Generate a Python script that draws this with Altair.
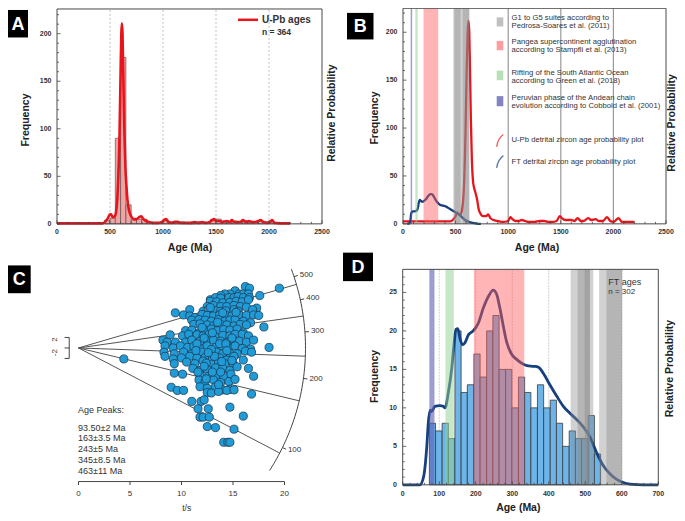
import math
import altair as alt
import pandas as pd

# ================= values =================
# ---- Panel A : U-Pb detrital zircon ages (50 Ma bins) ----
a_bin_lo = [450, 500, 550, 600, 650, 700, 750, 800, 850, 900, 950, 1000, 1050, 1100, 1150, 1200,
            1250, 1300, 1350, 1400, 1450, 1500, 1550, 1600, 1650, 1700, 1750, 1800, 1850, 1900, 1950, 2000]
a_counts = [4, 6, 90, 175, 20, 4, 5, 5, 2, 1, 1, 4, 2, 3, 2, 1,
            0, 2, 1, 1, 5, 5, 3, 2, 3, 2, 3, 2, 2, 3, 2, 3]
a_bin_width = 50
a_curve_age = [0, 430, 460, 480, 500, 510, 525, 545, 560, 575, 590, 600, 607, 612, 618, 625, 635, 645,
               655, 665, 680, 700, 720, 750, 775, 795, 815, 840, 870, 900, 950, 990, 1010, 1030, 1050,
               1080, 1110, 1140, 1170, 1200, 1250, 1300, 1330, 1370, 1400, 1440, 1465, 1480, 1500, 1530,
               1560, 1600, 1630, 1650, 1670, 1700, 1730, 1755, 1780, 1810, 1840, 1870, 1900, 1920, 1945,
               1980, 2010, 2030, 2050, 2100, 2200]
a_curve_val = [0.5, 0.5, 3, 6, 10, 10, 7, 8, 15, 40, 95, 160, 200, 211, 200, 160, 100, 60,
               40, 25, 14, 8, 5, 5, 7, 8, 5, 3, 2, 1, 1, 2, 4, 5, 2,
               1, 2, 2, 1, 1, 1, 2, 1, 2, 1, 2, 4, 5, 3, 3,
               2, 3, 2, 4, 2, 2, 2, 4, 2, 3, 2, 2, 3, 4, 2,
               1, 2, 4, 1, 0.5, 0.5]

# ---- Panel B : probability curves (frequency units) ----
b_red_age = [0, 450, 480, 500, 515, 530, 545, 560, 580, 595, 605, 615, 622, 630, 637, 645, 655, 665,
             675, 690, 705, 720, 740, 760, 790, 810, 830, 860, 900, 950, 1000, 1020, 1040, 1070, 1100,
             1130, 1160, 1200, 1250, 1300, 1340, 1380, 1420, 1460, 1490, 1510, 1540, 1570, 1600, 1630,
             1660, 1690, 1720, 1760, 1790, 1830, 1860, 1900, 1940, 1970, 2000, 2050, 2080, 2120, 2200]
b_red_val = [2.5, 2.5, 5, 8, 12, 10, 10, 14, 40, 100, 160, 200, 212, 200, 160, 110, 65, 45,
             38, 32, 25, 15, 10, 8, 8, 10, 6, 4, 3, 2, 3, 7, 5, 3, 3,
             4, 3, 2, 2, 3, 3, 2, 2, 3, 8, 6, 4, 4, 4, 3,
             6, 3, 3, 6, 4, 5, 3, 3, 7, 3, 2, 6, 2, 2, 2]
b_blue_age = [40, 60, 70, 78, 90, 110, 130, 140, 150, 160, 170, 185, 200, 220, 240, 260, 275, 290,
              310, 330, 350, 380, 410, 440, 470, 500, 530, 560, 590, 620, 660, 700, 740]
b_blue_val = [0, 0.5, 3, 11, 13, 13, 14, 16, 22, 25, 24, 23, 24, 26, 29, 31, 31, 29,
              25, 22, 20, 19, 18, 16, 14, 12, 10, 7, 4, 2.5, 1, 0.3, 0]

# ---- geological event bands (Ma), panel D ----
band_lo = [73, 117, 195, 460, 479, 499, 538, 558]
band_hi = [87, 140, 333, 522, 513, 513, 601, 601]
band_kind = ["peru", "rift", "pangea", "g", "g", "g", "g", "g"]
# ---- same bands as drawn in panel B ----
b_band_lo = [73, 117, 195, 478, 488, 567]
b_band_hi = [87, 140, 335, 630, 548, 630]
b_band_kind = ["peru", "rift", "pangea", "g", "g", "g"]

# ---- Panel C : radial plot of FT ages ----
c_ts = [16.2, 16.6, 19.5, 15.2, 14.7, 15.6, 16.0, 16.5, 17.6, 14.2, 13.8,
        12.8, 13.3, 13.8, 14.6, 15.1, 15.5, 16.0, 16.6, 12.8, 13.4, 14.0, 14.7, 15.3, 15.9, 16.5,
        12.5, 13.1, 13.8, 14.4, 15.1, 15.7, 16.3, 17.3, 10.8, 12.1, 12.6, 13.3, 13.8, 14.3, 15.1, 15.5, 16.9,
        9.4, 10.2, 10.8, 11.3, 12.0, 12.5, 13.1, 13.7, 14.3, 14.9, 15.6, 16.3, 17.0, 17.5,
        11.0, 11.7, 12.3, 12.9, 13.6, 14.2, 14.7, 15.2, 16.0, 16.7,
        11.2, 11.8, 12.5, 13.1, 13.8, 14.4, 15.1, 15.7, 16.3, 18.0,
        10.4, 11.0, 11.7, 12.3, 12.9, 13.5, 14.1, 14.7, 15.4, 16.0,
        8.9, 10.1, 10.7, 11.5, 12.1, 12.7, 13.3, 14.0, 14.7, 15.2, 15.9, 16.5,
        8.2, 8.6, 9.4, 10.4, 11.0, 11.8, 12.5, 13.1, 13.8, 14.4, 15.1, 15.6, 16.3, 17.0,
        8.4, 9.2, 9.9, 10.6, 11.2, 11.8, 12.5, 13.3, 13.9, 14.6, 15.2, 15.9, 16.7, 18.5,
        8.3, 9.3, 10.2, 11.0, 12.0, 12.7, 13.4, 14.0, 14.7, 15.4, 16.2, 16.8,
        8.4, 9.2, 10.0, 10.8, 11.5, 12.3, 13.0, 13.7, 14.4, 15.1, 16.0, 4.4,
        9.3, 10.5, 11.3, 12.1, 12.9, 13.6, 14.2, 15.0,
        9.3, 10.1, 11.1, 11.8, 12.5, 13.3, 14.0, 14.7, 15.4, 16.5,
        11.8, 12.6, 13.4, 14.1, 14.8, 17.0, 11.7, 12.3, 13.1, 13.8, 14.6, 15.2,
        11.8, 12.5, 13.3, 14.0, 14.7, 9.0, 9.6, 10.2, 12.5, 12.9, 13.6, 14.4, 15.1, 16.8,
        11.0, 11.9, 12.2, 11.6, 12.6, 14.7, 11.8, 12.1, 12.7, 16.0, 12.5, 13.3, 15.1, 14.1, 14.5, 14.7,
        12.0, 13.0, 13.7, 12.9, 14.3, 13.2, 12.4, 13.0, 13.8, 12.2, 14.4, 11.5, 12.2, 14.9, 13.5,
        14.0, 15.3, 12.8, 11.4, 12.6, 13.9, 14.9, 11.6, 12.4, 13.6]
c_z = [11.7, 11.4, 11.4, 10.9, 10.3, 10.3, 10.3, 10.3, 10.0, 10.3, 10.0,
       9.2, 9.6, 9.5, 9.6, 9.6, 9.8, 9.6, 9.6, 8.9, 8.8, 8.6, 8.7, 8.9, 8.8, 9.2,
       7.9, 8.1, 7.9, 7.9, 8.1, 7.9, 7.8, 7.6, 7.3, 7.0, 7.3, 7.1, 7.0, 7.1, 7.3, 7.0, 7.3,
       6.7, 6.3, 6.1, 5.8, 6.4, 6.2, 6.1, 6.3, 6.2, 6.1, 6.3, 6.2, 6.3, 6.2,
       5.3, 5.4, 5.3, 5.1, 5.4, 5.1, 5.3, 5.4, 5.1, 4.8,
       4.5, 4.6, 4.4, 4.2, 4.5, 4.4, 4.2, 4.5, 4.4, 4.0,
       3.3, 3.4, 2.9, 3.4, 3.6, 3.3, 3.5, 3.4, 3.6, 2.9,
       2.5, 2.3, 2.6, 2.5, 2.3, 2.6, 2.1, 2.4, 2.3, 2.6, 2.6, 2.3,
       1.5, 1.1, 1.1, 1.1, 1.5, 1.3, 1.4, 1.5, 1.3, 1.1, 1.4, 1.3, 1.1, 1.5,
       0.4, 0.0, 0.4, 0.1, 0.3, -0.2, 0.4, 0.1, 0.3, -0.1, 0.4, -0.1, -0.2, 0.1,
       -0.8, -1.1, -0.8, -1.1, -0.8, -1.3, -0.8, -1.1, -1.0, -1.1, -0.6, -0.8,
       -1.6, -2.1, -1.9, -1.6, -1.9, -1.8, -2.1, -1.9, -2.3, -1.6, -2.3, -2.1,
       -3.0, -2.7, -3.0, -2.5, -3.1, -2.7, -3.0, -2.9,
       -4.8, -5.0, -3.9, -4.3, -4.1, -3.8, -3.9, -4.3, -3.6, -3.9,
       -5.2, -5.4, -5.2, -5.4, -5.0, -5.4, -6.1, -6.4, -6.1, -6.6, -6.4, -6.0,
       -7.4, -7.7, -7.4, -8.0, -7.9, -7.5, -8.1, -8.1, -8.5, -8.6, -8.3, -8.1, -8.0, -8.8,
       -10.2, -10.2, -9.9, -11.6, -11.6, -11.3, -13.2, -13.2, -13.2, -13.0, -15.0, -15.2, -15.5, -18.0, -18.0, -18.0,
       3.9, 2.9, 0.8, -0.3, 0.8, -1.6, -2.9, -4.6, -4.6, -3.5, -0.5, 0.8, 1.9, 1.9, 4.9,
       6.7, 6.8, 7.7, -0.5, -0.9, -2.6, -2.4, -4.6, -5.9, -7.0]
c_center_age = 261.0
peak_ages = [93.5, 163, 243, 345, 463]
peak_labels = ["93.50±2 Ma", "163±3.5 Ma", "243±5 Ma", "345±8.5 Ma", "463±11 Ma"]
arc_tick_ages = [100, 200, 300, 400, 500]
arc_age_min, arc_age_max = 74, 540

# ---- Panel D : FT ages histogram and probability curve ----
d_edges = [73, 90, 108, 125, 143, 160, 177, 195, 212, 230, 247, 264, 282, 299, 317, 334, 351, 369,
           386, 404, 421, 438, 456, 473, 490, 508, 525, 542]
d_counts = [8, 7, 8, 6, 20, 12, 13, 17, 14, 20, 22, 15, 15, 10, 14, 12, 10, 13, 10, 11, 8, 5, 7, 6, 6, 9, 4]
d_curve_age = [0, 47, 57, 66, 70, 75, 79, 88, 102, 111, 116, 125, 134, 140, 146, 151, 157, 164, 171, 180,
               193, 207, 221, 235, 248, 257, 266, 276, 285, 298, 312, 326, 340, 358, 371, 385, 403, 422,
               440, 458, 476, 495, 513, 531, 549, 568, 586, 604, 622, 660, 700]
d_curve_val = [0, 0, 1, 5, 8, 9.7, 9.5, 10.2, 10.3, 10.2, 10.0, 12, 15, 18, 20.2, 20.3, 19, 18.2, 18.5, 19.5,
               20, 21, 23, 24.5, 25.3, 24.8, 23, 20.5, 18.5, 17, 16.3, 15.8, 15.5, 15.4, 15.3, 14.5, 13, 11.5,
               10.2, 9.3, 8.5, 7.5, 6.2, 4.2, 2.5, 1.4, 0.7, 0.3, 0.1, 0, 0]

# ---- axis ticks ----
ab_xticks = [0, 500, 1000, 1500, 2000, 2500]
ab_yticks = [0, 50, 100, 150, 200]
d_xticks = [0, 100, 200, 300, 400, 500, 600, 700]
d_yticks = [0, 5, 10, 15, 20, 25]
c_xticks = [0, 5, 10, 15, 20]

# ================= layout helpers =================
SY = 0.9825


def T(px):          # reference page x -> chart x
    return px - 8.0


def U(py):          # reference page y -> chart y (slightly compressed to fit the page)
    return (py - 3.0) * SY


W, H = 669, 505
FONT = "Liberation Sans, Arial, sans-serif"
RED = "#e8141b"
NAVY = "#17407e"
BAND_COL = {"peru": ("#5b5bb0", 0.6), "rift": ("#8fd18f", 0.5), "pangea": ("#ff5c5c", 0.45), "g": ("#8c8c8c", 0.4)}


def lin(dom, r0, r1):
    return alt.Scale(domain=dom, range=[r0, r1], nice=False, zero=False)


AX = lin([0, 2500], T(57), T(322)); AY = lin([0, 226], U(222.7), U(4))
BX = lin([0, 2500], T(403), T(666)); BY = lin([0, 225], U(222.7), U(3.3))
CX = lin([0, 20], T(78.5), T(284.5)); CY = lin([-20, 20], U(455.7), U(242.3))
DX = lin([0, 700], T(402.7), T(658.3)); DY = lin([0, 28], U(488.3), U(269))


def qx(f, sc):
    return alt.X(f"{f}:Q", scale=sc, axis=None)


def qy(f, sc):
    return alt.Y(f"{f}:Q", scale=sc, axis=None)


def one():
    return pd.DataFrame({"t": ["_"]})


def frame(xsc, ysc, x0, x1, y0, y1):
    df = pd.DataFrame({"a": [x0], "b": [x1], "c": [y0], "d": [y1]})
    return alt.Chart(df).mark_rect(fillOpacity=0, stroke="#4a4a4a", strokeWidth=1).encode(
        x=qx("a", xsc), x2="b:Q", y=qy("c", ysc), y2="d:Q")


def xticks(vals, xsc, ybase, length, color="#444"):
    df = pd.DataFrame({"v": vals})
    return alt.Chart(df).mark_rule(color=color, strokeWidth=0.8).encode(
        x=qx("v", xsc), y=alt.value(U(ybase)), y2=alt.value(U(ybase) - length))


def yticks(vals, ysc, xbase, length, color="#444"):
    df = pd.DataFrame({"v": vals})
    return alt.Chart(df).mark_rule(color=color, strokeWidth=0.8).encode(
        y=qy("v", ysc), x=alt.value(T(xbase)), x2=alt.value(T(xbase) + length))


def xlabels(vals, xsc, ypos, size=7, weight="bold", color="#333"):
    df = pd.DataFrame({"v": vals, "t": [str(v) for v in vals]})
    return alt.Chart(df).mark_text(font=FONT, fontSize=size, fontWeight=weight, color=color,
                                   align="center", baseline="middle").encode(
        x=qx("v", xsc), y=alt.value(U(ypos)), text="t:N")


def ylabels(vals, ysc, xpos, size=7):
    df = pd.DataFrame({"v": vals, "t": [str(v) for v in vals]})
    return alt.Chart(df).mark_text(font=FONT, fontSize=size, fontWeight="bold", color="#333",
                                   align="right", baseline="middle").encode(
        y=qy("v", ysc), x=alt.value(T(xpos)), text="t:N")


def text(s, x, y, size=9, weight="normal", angle=0, align="center", color="#222"):
    df = pd.DataFrame({"t": [s]})
    return alt.Chart(df).mark_text(font=FONT, fontSize=size, fontWeight=weight, angle=angle,
                                   align=align, baseline="middle", color=color).encode(
        x=alt.value(T(x)), y=alt.value(U(y)), text="t:N")


def label_box(letter, x0, y0, x1, y1):
    x0 = max(x0, 8.0)
    box = alt.Chart(one()).mark_rect(color="black").encode(
        x=alt.value(T(x0)), x2=alt.value(T(x1)), y=alt.value(U(y0)), y2=alt.value(U(y1)))
    return [box, text(letter, (x0 + x1) / 2, (y0 + y1) / 2 + 1, size=18, weight="bold", color="white")]


def bands(los, his, kinds, xsc, ysc, top):
    out = []
    for kind in ["g", "pangea", "rift", "peru"]:
        lo = [l for l, k in zip(los, kinds) if k == kind]
        hi = [h for h, k in zip(his, kinds) if k == kind]
        df = pd.DataFrame({"lo": lo, "hi": hi, "b": [0] * len(lo), "t": [top] * len(lo)})
        col, op = BAND_COL[kind]
        out.append(alt.Chart(df).mark_rect(color=col, opacity=op).encode(
            x=qx("lo", xsc), x2="hi:Q", y=qy("b", ysc), y2="t:Q"))
    return out


def gridlines(vals, xsc, y0, y1, color, dash=None, width=1.0):
    df = pd.DataFrame({"v": vals})
    kw = dict(color=color, strokeWidth=width)
    if dash:
        kw["strokeDash"] = dash
    return alt.Chart(df).mark_rule(**kw).encode(x=qx("v", xsc), y=alt.value(U(y0)), y2=alt.value(U(y1)))


def curve(ages, vals, xsc, ysc, color, width):
    df = pd.DataFrame({"a": ages, "v": vals, "o": list(range(len(ages)))})
    return alt.Chart(df).mark_line(color=color, strokeWidth=width, interpolate="monotone").encode(
        x=qx("a", xsc), y=qy("v", ysc), order="o:Q")


layers = []

# ================= Panel A =================
layers.append(gridlines([500, 1000, 1500, 2000], AX, 222.7, 4, "#bdbdbd", dash=[2, 2]))
a_df = pd.DataFrame({"lo": a_bin_lo, "hi": [v + a_bin_width for v in a_bin_lo], "z": [0] * len(a_bin_lo), "n": a_counts})
layers.append(alt.Chart(a_df).mark_rect(color="#f2a3a3", stroke="#444", strokeWidth=0.6).encode(
    x=qx("lo", AX), x2="hi:Q", y=qy("z", AY), y2="n:Q"))
layers.append(curve(a_curve_age, a_curve_val, AX, AY, RED, 2.6))
layers.append(frame(AX, AY, 0, 2500, 0, 226))
layers.append(xticks(ab_xticks, AX, 222.7, 3.5))
layers.append(xticks([v for v in range(100, 2500, 100) if v % 500], AX, 222.7, 2))
layers.append(yticks(ab_yticks, AY, 57, 3.5))
layers.append(yticks([v for v in range(10, 226, 10) if v % 50], AY, 57, 2))
layers.append(xlabels(ab_xticks, AX, 231))
layers.append(ylabels(ab_yticks, AY, 51.5))
layers.append(text("Age (Ma)", 190, 247, size=10.5, weight="bold"))
layers.append(text("Frequency", 26, 117, size=10.5, weight="bold", angle=270))
layers.append(text("Relative Probability", 332, 110, size=10.5, weight="bold", angle=270))
layers.append(alt.Chart(one()).mark_rule(color=RED, strokeWidth=2.5).encode(
    x=alt.value(T(238)), x2=alt.value(T(258)), y=alt.value(U(15))))
layers.append(text("U-Pb ages", 262, 15, size=10, weight="bold", align="left", color="#333"))
layers.append(text("n = 364", 262, 27, size=8.5, weight="bold", align="left", color="#333"))
layers += label_box("A", 1, 5, 28, 33)

# ================= Panel B =================
layers.append(gridlines([1000, 1500, 2000], BX, 222.7, 3.3, "#999999", width=1.2))
layers.append(curve(b_red_age, b_red_val, BX, BY, RED, 2.3))
layers.append(curve(b_blue_age, b_blue_val, BX, BY, NAVY, 2.3))
layers += bands(b_band_lo, b_band_hi, b_band_kind, BX, BY, 225)
layers.append(frame(BX, BY, 0, 2500, 0, 225))
layers.append(xticks(ab_xticks, BX, 222.7, 3.5))
layers.append(xticks([v for v in range(100, 2500, 100) if v % 500], BX, 222.7, 2))
layers.append(yticks(ab_yticks, BY, 403, 3.5))
layers.append(yticks([v for v in range(10, 225, 10) if v % 50], BY, 403, 2))
layers.append(xlabels(ab_xticks, BX, 230.5))
layers.append(ylabels(ab_yticks, BY, 397.5))
layers.append(text("Age (Ma)", 537, 247, size=10.5, weight="bold"))
layers.append(text("Frequency", 375, 115, size=10.5, weight="bold", angle=270))
layers.append(text("Relative Probability", 671.5, 120, size=10.5, weight="bold", angle=270))
# legend
leg_items = [("g", 12.5, 21.8, ["G1 to G5 suites according to", "Pedrosa-Soares et al. (2011)"], 13.0),
             ("pangea", 36.5, 46.0, ["Pangea supercontinent agglutination", "according to Stampfli et al. (2013)"], 37.8),
             ("rift", 66.7, 76.5, ["Rifting of the South Atlantic Ocean", "according to Green et al. (2018)"], 69.0),
             ("peru", 92.7, 103.0, ["Peruvian phase of the Andean chain", "evolution according to Cobbold et al. (2001)"], 94.5)]
LEG = 7.7
for kind, y0, y1, lines, ty in leg_items:
    col, op = BAND_COL[kind]
    layers.append(alt.Chart(one()).mark_rect(color=col, opacity=min(1.0, op + 0.15)).encode(
        x=alt.value(T(496.7)), x2=alt.value(T(503.3)), y=alt.value(U(y0)), y2=alt.value(U(y1))))
    layers.append(text(lines[0], 511.5, ty, size=LEG, align="left", color="#333"))
    layers.append(text(lines[1], 511.5, ty + 8.0, size=LEG, align="left", color="#333"))
glyph = "M -0.55 1 Q -0.35 -0.35 0.55 -1"
layers.append(alt.Chart(one()).mark_point(shape=glyph, filled=False, color=RED, strokeWidth=1.3, size=150).encode(
    x=alt.value(T(500)), y=alt.value(U(138))))
layers.append(text("U-Pb detrital zircon age probability plot", 511.5, 137.5, size=LEG, align="left", color="#333"))
layers.append(alt.Chart(one()).mark_point(shape=glyph, filled=False, color=NAVY, strokeWidth=1.3, size=150).encode(
    x=alt.value(T(500)), y=alt.value(U(159.5))))
layers.append(text("FT detrital zircon age probability plot", 511.5, 159.5, size=LEG, align="left", color="#333"))
layers += label_box("B", 347, 8, 373.5, 35)

# ================= Panel C (radial plot) =================
kx = (T(284.5) - T(78.5)) / 20.0
ky = (U(455.7) - U(242.3)) / 40.0
R = 227.0
z0 = math.log(c_center_age)


def radial(age, r):
    s = math.log(age) - z0
    x = r / math.sqrt(kx ** 2 + (ky * s) ** 2)
    return x, s * x


rl = [radial(a, R) for a in peak_ages]
layers.append(alt.Chart(pd.DataFrame({"x": [0.0] * 5, "y": [0.0] * 5, "x2": [p[0] for p in rl], "y2": [p[1] for p in rl]}))
              .mark_rule(color="#555", strokeWidth=1).encode(x=qx("x", CX), y=qy("y", CY), x2="x2:Q", y2="y2:Q"))
n_arc = 60
arc_ages = [arc_age_min * (arc_age_max / arc_age_min) ** (i / (n_arc - 1)) for i in range(n_arc)]
arc_pts = [radial(a, R) for a in arc_ages]
layers.append(alt.Chart(pd.DataFrame({"x": [p[0] for p in arc_pts], "y": [p[1] for p in arc_pts], "o": list(range(n_arc))}))
              .mark_line(color="#444", strokeWidth=1).encode(x=qx("x", CX), y=qy("y", CY), order="o:Q"))
t_in = [radial(a, R) for a in arc_tick_ages]
t_out = [radial(a, R + 4) for a in arc_tick_ages]
t_lab = [radial(a, R + 6) for a in arc_tick_ages]
layers.append(alt.Chart(pd.DataFrame({"x": [p[0] for p in t_in], "y": [p[1] for p in t_in],
                                      "x2": [p[0] for p in t_out], "y2": [p[1] for p in t_out]}))
              .mark_rule(color="#444", strokeWidth=1).encode(x=qx("x", CX), y=qy("y", CY), x2="x2:Q", y2="y2:Q"))
layers.append(alt.Chart(pd.DataFrame({"x": [p[0] for p in t_lab], "y": [p[1] for p in t_lab], "t": [str(a) for a in arc_tick_ages]}))
              .mark_text(font=FONT, fontSize=8, color="#333", align="left", baseline="middle")
              .encode(x=qx("x", CX), y=qy("y", CY), text="t:N"))
layers.append(alt.Chart(pd.DataFrame({"x": c_ts, "y": c_z}))
              .mark_circle(size=66, color="#1f9bd7", opacity=1, stroke="#1d3b55", strokeWidth=0.8)
              .encode(x=qx("x", CX), y=qy("y", CY)))
# +-2 bracket
layers.append(alt.Chart(pd.DataFrame({"x": [-0.9, -0.9, -0.9, -0.9], "y": [-2.0, 2.0, 0.0, -2.0],
                                      "x2": [-0.9, -1.35, -1.35, -1.35], "y2": [2.0, 2.0, 0.0, -2.0]}))
              .mark_rule(color="#444", strokeWidth=1).encode(x=qx("x", CX), y=qy("y", CY), x2="x2:Q", y2="y2:Q"))
layers.append(alt.Chart(pd.DataFrame({"x": [-2.3, -2.3], "y": [1.6, -0.9], "t": ["2", "-2"]}))
              .mark_text(font=FONT, fontSize=8, color="#333", angle=270, align="center", baseline="middle")
              .encode(x=qx("x", CX), y=qy("y", CY), text="t:N"))
# t/s axis
layers.append(alt.Chart(pd.DataFrame({"a": [0], "b": [20]})).mark_rule(color="#444", strokeWidth=1).encode(
    x=qx("a", CX), x2="b:Q", y=alt.value(U(485))))
layers.append(alt.Chart(pd.DataFrame({"v": c_xticks})).mark_rule(color="#444", strokeWidth=1).encode(
    x=qx("v", CX), y=alt.value(U(485)), y2=alt.value(U(488.5))))
layers.append(xlabels(c_xticks, CX, 497.7, size=8, weight="normal"))
layers.append(text("t/s", 186.7, 512, size=8.5, color="#333"))
layers.append(text("Age Peaks:", 78, 412, size=9, align="left", color="#333"))
for i, lab in enumerate(peak_labels):
    layers.append(text(lab, 78, 430 + i * 11.1, size=9, align="left", color="#333"))
layers += label_box("C", 1, 265, 30.7, 293.3)

# ================= Panel D =================
layers.append(gridlines([100, 200, 300, 400, 500, 600], DX, 488.3, 269, "#cfcfcf", dash=[2, 1]))
d_df = pd.DataFrame({"lo": d_edges[:-1], "hi": d_edges[1:], "z": [0] * len(d_counts), "n": d_counts})
layers.append(alt.Chart(d_df).mark_rect(color="#6db4e8", stroke="#3a3a3a", strokeWidth=0.8).encode(
    x=qx("lo", DX), x2="hi:Q", y=qy("z", DY), y2="n:Q"))
layers.append(curve(d_curve_age, d_curve_val, DX, DY, NAVY, 2.8))
layers += bands(band_lo, band_hi, band_kind, DX, DY, 28)
layers.append(frame(DX, DY, 0, 700, 0, 28))
layers.append(xticks(d_xticks, DX, 488.3, 3.5))
layers.append(xticks([v for v in range(20, 700, 20) if v % 100], DX, 488.3, 2))
layers.append(yticks(d_yticks, DY, 402.7, 3.5))
layers.append(yticks([v for v in range(1, 28) if v % 5], DY, 402.7, 2))
layers.append(xlabels(d_xticks, DX, 497.7))
layers.append(ylabels(d_yticks, DY, 397))
layers.append(text("Age (Ma)", 518.3, 511.5, size=10.5, weight="bold"))
layers.append(text("Frequency", 375, 378, size=10.5, weight="bold", angle=270))
layers.append(text("Relative Probability", 670, 370, size=10.5, weight="bold", angle=270))
layers.append(text("FT ages", 608.3, 281.5, size=9, align="left", color="#333"))
layers.append(text("n = 302", 608.3, 292, size=8, align="left", color="#333"))
layers += label_box("D", 343, 252, 373, 281)

chart = (alt.layer(*layers)
         .resolve_scale(x="independent", y="independent")
         .properties(width=W, height=H, autosize=alt.AutoSizeParams(type="none"), padding=0)
         .configure_view(strokeWidth=0))

chart.save("out.html", embed_options={"renderer": "svg", "actions": False})
